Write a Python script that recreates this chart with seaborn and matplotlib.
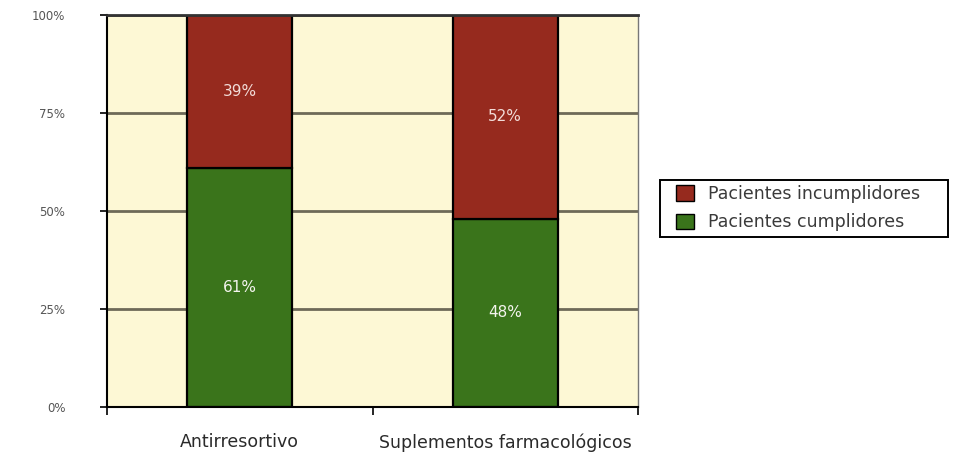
import matplotlib
matplotlib.use("Agg")
import matplotlib.pyplot as plt
import seaborn as sns
import pandas as pd
from matplotlib.patches import Patch, Rectangle
from matplotlib.ticker import FixedLocator

categorias = ["Antirresortivo", "Suplementos farmacológicos"]
cumplidores = [61, 48]
incumplidores = [39, 52]
y_ticks = [0, 25, 50, 75, 100]
y_labels = ["0%", "25%", "50%", "75%", "100%"]
series_names = ["Pacientes incumplidores", "Pacientes cumplidores"]

color_rojo = "#962a1e"
color_verde = "#3a741b"
fondo = "#fdf8d5"

sns.set_theme(style="white")
plt.rcParams["font.family"] = ["DejaVu Sans"]

df = pd.DataFrame({"categoria": categorias,
                   "cumple": cumplidores,
                   "incumple": incumplidores})

W, H = 955, 455
fig = plt.figure(figsize=(W / 100, H / 100), dpi=100)
ax = fig.add_axes([107 / W, 1 - 407 / H, 531 / W, 392 / H])
ax.set_facecolor(fondo)

# horizontal gridlines behind the bars
for v in y_ticks[1:]:
    ax.axhline(v, color="#6e6a58", lw=2.0, zorder=0.5)

sns.barplot(data=df, x="categoria", y="cumple", color=color_verde,
            saturation=1, width=0.395, edgecolor="black", linewidth=1.6,
            ax=ax, zorder=2)
sns.barplot(data=df, x="categoria", y="incumple", bottom=df["cumple"],
            color=color_rojo, saturation=1, width=0.395, edgecolor="black",
            linewidth=1.6, ax=ax, zorder=2)

# value labels in the middle of each segment
for i, (c, n) in enumerate(zip(cumplidores, incumplidores)):
    ax.text(i, c / 2, f"{c}%", ha="center", va="center", color="#f4f4ee",
            fontsize=11, zorder=3)
    ax.text(i, c + n / 2, f"{n}%", ha="center", va="center",
            color="#f2dcd8", fontsize=11, zorder=3)

ax.set_xlim(-0.5, 1.5)
ax.set_ylim(0, 100)
ax.set_yticks(y_ticks)
ax.set_yticklabels(y_labels, fontsize=8.5, color="#555555")
ax.set_xlabel("")
ax.set_ylabel("")
ax.tick_params(axis="y", direction="out", length=5, width=1.2, color="black",
               left=True, pad=25)
ax.tick_params(axis="x", which="major", length=0, pad=19, labelsize=12.5,
               labelcolor="#2a2a2a")
ax.xaxis.set_minor_locator(FixedLocator([-0.5, 0.5, 1.5]))
ax.tick_params(axis="x", which="minor", direction="out", length=6, width=1.2,
               color="black", bottom=True)

for side in ["left", "bottom"]:
    ax.spines[side].set_color("black")
    ax.spines[side].set_linewidth(1.5)
ax.spines["top"].set_color("#333333")
ax.spines["top"].set_linewidth(2.0)
ax.spines["right"].set_color("#777777")
ax.spines["right"].set_linewidth(1.0)

# legend: entries without their own frame, boxed by a separate rectangle
handles = [Patch(facecolor=color_rojo, edgecolor="black"),
           Patch(facecolor=color_verde, edgecolor="black")]
leg = fig.legend(handles, series_names, loc="upper left",
                 bbox_to_anchor=(676 / W, 1 - 185 / H),
                 frameon=False, fontsize=12.5,
                 handlelength=1.05, handleheight=1.0, handletextpad=0.8,
                 borderpad=0.0, labelspacing=0.6, borderaxespad=0)
for t in leg.get_texts():
    t.set_color("#3a3a3a")
fig.patches.append(Rectangle((660 / W, 1 - 237 / H), 288 / W, 57 / H,
                             transform=fig.transFigure, fill=False,
                             edgecolor="black", linewidth=1.4))

fig.savefig("out.png", dpi=100, facecolor="white")
